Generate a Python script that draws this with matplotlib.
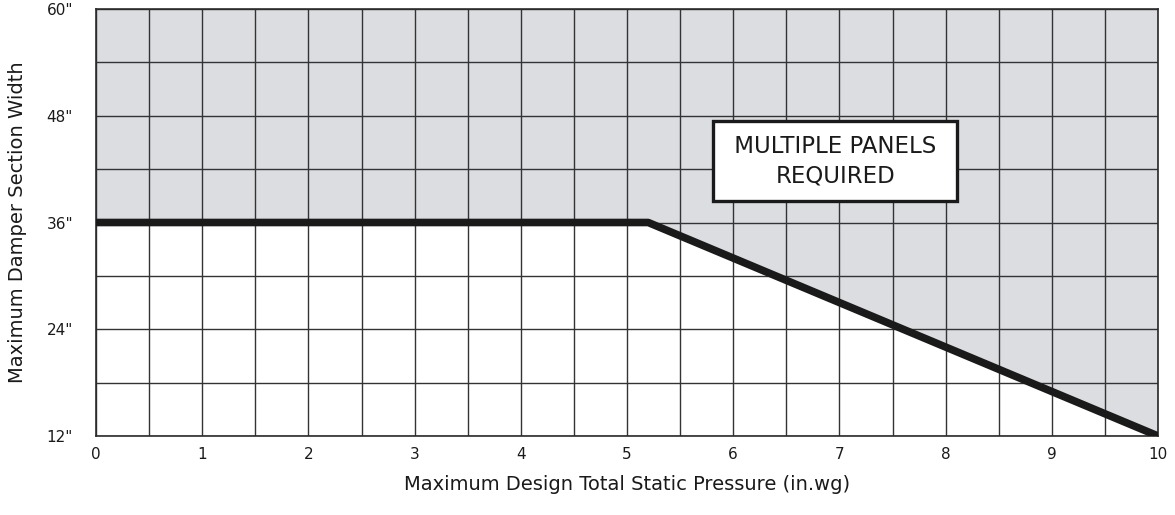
import matplotlib
matplotlib.use("Agg")
import matplotlib.pyplot as plt
import numpy as np

# Data
limit_x = [0, 5.2, 10]
limit_y = [36, 36, 12]
x_ticks = [0, 1, 2, 3, 4, 5, 6, 7, 8, 9, 10]
y_ticks = [12, 24, 36, 48, 60]
y_tick_labels = ['12"', '24"', '36"', '48"', '60"']
x_grid = np.arange(0, 10.01, 0.5)
y_grid = np.arange(12, 60.01, 6)

fig = plt.figure(figsize=(11.75, 5.15), dpi=100)
ax = fig.add_axes([96/1175, 1-436/515, (1158-96)/1175, (436-9)/515])

ax.set_xlim(0, 10)
ax.set_ylim(12, 60)

# shaded region above line
ax.fill_between(limit_x, limit_y, 60, color='#dcdde0', zorder=0, linewidth=0)

# grid
for gx in x_grid:
    ax.axvline(gx, color='#333333', lw=1.0, zorder=1)
for gy in y_grid:
    ax.axhline(gy, color='#333333', lw=1.0, zorder=1)

ax.plot(limit_x, limit_y, color='#1a1a1a', lw=5.5, solid_capstyle='butt', zorder=3)

for s in ax.spines.values():
    s.set_color('#2b2b2b')
    s.set_linewidth(1.2)

ax.set_xticks(x_ticks)
ax.set_xticklabels([str(t) for t in x_ticks])
ax.set_yticks(y_ticks)
ax.set_yticklabels(y_tick_labels)
ax.tick_params(length=0, labelsize=11, colors='#1a1a1a', pad=8)
ax.tick_params(axis='y', pad=16.5)

ax.text(6.96, 42.9, ' MULTIPLE PANELS \nREQUIRED', ha='center', va='center', fontsize=16.5,
        multialignment='center',
        color='#1a1a1a', linespacing=1.4, zorder=5,
        bbox=dict(boxstyle='square,pad=0.6', fc='white', ec='#1a1a1a', lw=2.4))

fig.text(627/1175, 1-485/515, 'Maximum Design Total Static Pressure (in.wg)', ha='center', va='center',
         fontsize=14, color='#1a1a1a')
fig.text(18/1175, 1-222/515, 'Maximum Damper Section Width', ha='center', va='center',
         rotation=90, fontsize=14, color='#1a1a1a')

fig.savefig('out.png', dpi=100)
